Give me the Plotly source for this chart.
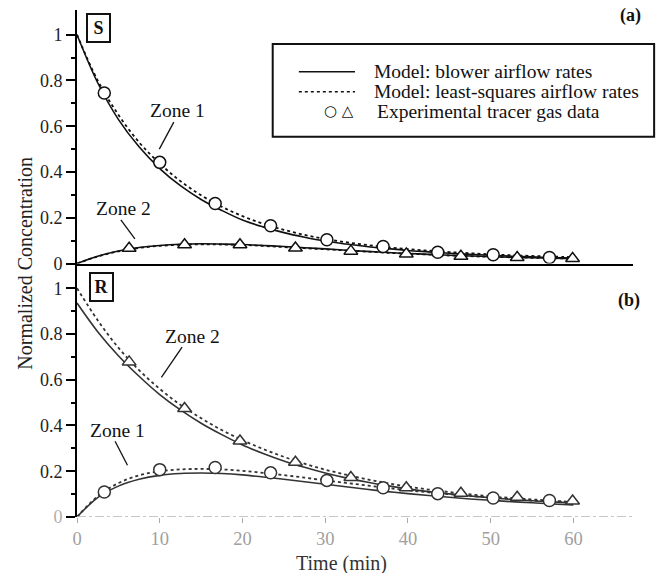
import plotly.graph_objects as go

# ---------------- data ----------------
t_model = [0, 2.5, 5, 7.5, 10, 12.5, 15, 17.5, 20, 22.5, 25, 27.5, 30,
           32.5, 35, 37.5, 40, 42.5, 45, 47.5, 50, 52.5, 55, 57.5, 60]

# Panel (a) "S"
a_z1_blower = [1.0, 0.79, 0.63, 0.51, 0.415, 0.34, 0.28, 0.232, 0.19, 0.16, 0.135, 0.115, 0.098,
               0.085, 0.074, 0.065, 0.057, 0.051, 0.045, 0.040, 0.036, 0.032, 0.029, 0.026, 0.024]
a_z1_lsq = [1.0, 0.80, 0.65, 0.53, 0.437, 0.36, 0.298, 0.248, 0.207, 0.174, 0.147, 0.125, 0.107,
            0.093, 0.081, 0.071, 0.063, 0.056, 0.050, 0.045, 0.040, 0.036, 0.033, 0.030, 0.028]
a_z2_blower = [0.0, 0.032, 0.055, 0.070, 0.079, 0.084, 0.086, 0.085, 0.083, 0.079, 0.074, 0.069, 0.064,
               0.058, 0.053, 0.048, 0.044, 0.040, 0.036, 0.033, 0.030, 0.027, 0.025, 0.023, 0.021]
a_z2_lsq = [0.0, 0.031, 0.053, 0.068, 0.077, 0.082, 0.084, 0.083, 0.081, 0.077, 0.072, 0.067, 0.062,
            0.057, 0.052, 0.047, 0.043, 0.039, 0.035, 0.032, 0.029, 0.027, 0.025, 0.023, 0.021]

t_circ = [3.3, 10.0, 16.7, 23.4, 30.2, 37.0, 43.6, 50.3, 57.1]
t_tri = [6.3, 13.0, 19.7, 26.4, 33.1, 39.8, 46.4, 53.2, 59.9]

a_z1_data = [0.745, 0.442, 0.262, 0.165, 0.104, 0.074, 0.049, 0.038, 0.026]
a_z2_data = [0.067, 0.082, 0.082, 0.068, 0.054, 0.042, 0.032, 0.026, 0.022]

# Panel (b) "R"
b_z2_blower = [0.935, 0.81, 0.705, 0.615, 0.535, 0.468, 0.41, 0.36, 0.315, 0.278, 0.245, 0.217, 0.192,
               0.171, 0.153, 0.137, 0.123, 0.111, 0.101, 0.092, 0.084, 0.077, 0.071, 0.066, 0.061]
b_z2_lsq = [1.0, 0.86, 0.74, 0.642, 0.56, 0.49, 0.432, 0.38, 0.336, 0.297, 0.263, 0.233, 0.207,
            0.185, 0.165, 0.148, 0.133, 0.120, 0.109, 0.099, 0.090, 0.083, 0.077, 0.071, 0.066]
b_z1_blower = [0.0, 0.085, 0.135, 0.165, 0.182, 0.19, 0.192, 0.19, 0.184, 0.175, 0.165, 0.154, 0.143,
               0.132, 0.121, 0.111, 0.102, 0.094, 0.086, 0.079, 0.073, 0.067, 0.062, 0.057, 0.053]
b_z1_lsq = [0.0, 0.09, 0.148, 0.182, 0.2, 0.208, 0.21, 0.208, 0.202, 0.193, 0.183, 0.172, 0.16,
            0.149, 0.138, 0.127, 0.117, 0.108, 0.1, 0.092, 0.085, 0.078, 0.072, 0.067, 0.062]

b_z1_data = [0.109, 0.207, 0.216, 0.193, 0.160, 0.128, 0.102, 0.083, 0.072]
b_z2_data = [0.678, 0.474, 0.332, 0.239, 0.173, 0.128, 0.104, 0.086, 0.070]

y_ticks = [0, 0.2, 0.4, 0.6, 0.8, 1]
y_ticktext_a = ["0", "0.2", "0.4", "0.6", "0.8", "1"]
y_ticktext_b = ['<span style="color:#b0b0b0">0</span>', "0.2", "0.4", "0.6", "0.8", "1"]
y_minor = [0.1, 0.3, 0.5, 0.7, 0.9]
x_ticks = [0, 10, 20, 30, 40, 50, 60]

FONT = "Liberation Serif"
X_MAX = 67.2
Y_MAX = 1.108

fig = go.Figure()


def add_panel(xa, ya, z1b, z1l, z2b, z2l, z1d, z2d, col):
    for ys in (z1b, z2b):
        fig.add_trace(go.Scatter(x=t_model, y=ys, mode="lines", line=dict(color=col, width=1.6, shape="spline"),
                                 xaxis=xa, yaxis=ya, showlegend=False, hoverinfo="skip"))
    for ys in (z1l, z2l):
        fig.add_trace(go.Scatter(x=t_model, y=ys, mode="lines",
                                 line=dict(color=col, width=1.8, dash="dot", shape="spline"),
                                 xaxis=xa, yaxis=ya, showlegend=False, hoverinfo="skip"))
    fig.add_trace(go.Scatter(x=t_circ, y=z1d, mode="markers",
                             marker=dict(symbol="circle", size=12, color="white", line=dict(color=col, width=1.5)),
                             xaxis=xa, yaxis=ya, showlegend=False))
    fig.add_trace(go.Scatter(x=t_tri, y=z2d, mode="markers",
                             marker=dict(symbol="triangle-up", size=12, color="white", line=dict(color=col, width=1.5)),
                             xaxis=xa, yaxis=ya, showlegend=False))


add_panel("x2", "y2", a_z1_blower, a_z1_lsq, a_z2_blower, a_z2_lsq, a_z1_data, a_z2_data, "#111111")
add_panel("x", "y", b_z1_blower, b_z1_lsq, b_z2_blower, b_z2_lsq, b_z1_data, b_z2_data, "#333333")

yaxis_common = dict(range=[0, Y_MAX], tickvals=y_ticks, ticks="outside", ticklen=9, tickwidth=1.5,
                    tickcolor="black", showline=True, linewidth=2, linecolor="black", showgrid=False,
                    zeroline=False, tickfont=dict(family=FONT, size=18, color="#222"),
                    minor=dict(tickvals=y_minor, ticks="outside", ticklen=4, tickwidth=1.5, tickcolor="black"))

fig.update_layout(
    width=663, height=573,
    margin=dict(l=77, r=30, t=10, b=56),
    paper_bgcolor="white", plot_bgcolor="white",
    font=dict(family=FONT, color="#111"),
    xaxis=dict(domain=[0, 1], anchor="y", range=[0, X_MAX], tickvals=x_ticks, ticks="outside", ticklen=5,
               tickcolor="#aaaaaa", showline=False, showgrid=False, zeroline=False,
               tickfont=dict(family=FONT, size=18.5, color="#a0a0a0")),
    xaxis2=dict(domain=[0, 1], anchor="y2", matches="x", range=[0, X_MAX], showticklabels=False, ticks="",
                showline=True, linewidth=2, linecolor="black", showgrid=False, zeroline=False),
    yaxis=dict(domain=[0, 0.5], anchor="x", ticktext=y_ticktext_b, **yaxis_common),
    yaxis2=dict(domain=[0.5, 1], anchor="x2", ticktext=y_ticktext_a, **yaxis_common),
)

# faded dash-dot baseline of panel (b)
fig.add_shape(type="line", xref="x", yref="y", x0=0, x1=X_MAX, y0=0, y1=0,
              line=dict(color="#b5b5b5", width=1.5, dash="dashdot"))

ann = []
# axis titles
ann.append(dict(text="Normalized Concentration", xref="paper", yref="paper", x=-0.095, y=0.500,
                textangle=-90, showarrow=False, font=dict(family=FONT, size=20, color="#222"),
                xanchor="center", yanchor="middle"))
ann.append(dict(text="Time (min)", xref="paper", yref="paper", x=0.476, y=-0.091, showarrow=False,
                font=dict(family=FONT, size=20, color="#333"), xanchor="center", yanchor="middle"))
# panel letters
ann.append(dict(text="<b>(a)</b>", xref="paper", yref="paper", x=0.995, y=0.989, showarrow=False,
                font=dict(family=FONT, size=18, color="#111"), xanchor="center", yanchor="middle"))
ann.append(dict(text="<b>(b)</b>", xref="paper", yref="paper", x=0.993, y=0.428, showarrow=False,
                font=dict(family=FONT, size=18, color="#111"), xanchor="center", yanchor="middle"))
# boxed S / R
ann.append(dict(text="<b>S</b>", xref="paper", yref="paper", x=0.0378, y=0.964, showarrow=False,
                font=dict(family=FONT, size=18, color="#111"), bordercolor="#111", borderwidth=2,
                borderpad=1, width=19, height=24, bgcolor="white", xanchor="center", yanchor="middle"))
ann.append(dict(text="<b>R</b>", xref="paper", yref="paper", x=0.044, y=0.453, showarrow=False,
                font=dict(family=FONT, size=18, color="#111"), bordercolor="#111", borderwidth=2,
                borderpad=1, width=19, height=24, bgcolor="white", xanchor="center", yanchor="middle"))
# zone labels
zone_labels = [("Zone 1", "x2", "y2", 12.1, 0.669, (11.7, 0.618, 9.95, 0.50)),
               ("Zone 2", "x2", "y2", 5.6, 0.242, (5.3, 0.191, 7.0, 0.108)),
               ("Zone 2", "x", "y", 13.9, 0.791, (12.7, 0.743, 10.2, 0.61)),
               ("Zone 1", "x", "y", 4.9, 0.379, (4.6, 0.331, 6.1, 0.226))]
for txt, xr, yr, xx, yy, seg in zone_labels:
    ann.append(dict(text=txt, xref=xr, yref=yr, x=xx, y=yy, showarrow=False,
                    font=dict(family=FONT, size=19.5, color="#111"), xanchor="center", yanchor="middle"))
    fig.add_shape(type="line", xref=xr, yref=yr, x0=seg[0], y0=seg[1], x1=seg[2], y1=seg[3],
                  line=dict(color="#111", width=1.3))

# hand-drawn legend box
fig.add_shape(type="rect", xref="paper", yref="paper", x0=0.352, x1=1.038, y0=0.750, y1=0.933,
              line=dict(color="#111", width=2), fillcolor="white", layer="above")
fig.add_shape(type="line", xref="paper", yref="paper", x0=0.399, x1=0.50, y0=0.878, y1=0.878,
              line=dict(color="#111", width=1.5))
fig.add_shape(type="line", xref="paper", yref="paper", x0=0.399, x1=0.50, y0=0.839, y1=0.839,
              line=dict(color="#111", width=1.5, dash="dot"))
legend_rows = [("Model: blower airflow rates", 0.530, 0.878),
               ("Model: least-squares airflow rates", 0.530, 0.839),
               ("Experimental tracer gas data", 0.536, 0.799)]
for txt, xx, yy in legend_rows:
    ann.append(dict(text=txt, xref="paper", yref="paper", x=xx, y=yy, showarrow=False,
                    font=dict(family=FONT, size=19.5, color="#111"), xanchor="left", yanchor="middle"))
ann.append(dict(text="○ △", xref="paper", yref="paper", x=0.472, y=0.800, showarrow=False,
                font=dict(family="DejaVu Sans", size=15, color="#111"), xanchor="center", yanchor="middle"))

fig.update_layout(annotations=ann)
fig.write_html("out.html")
